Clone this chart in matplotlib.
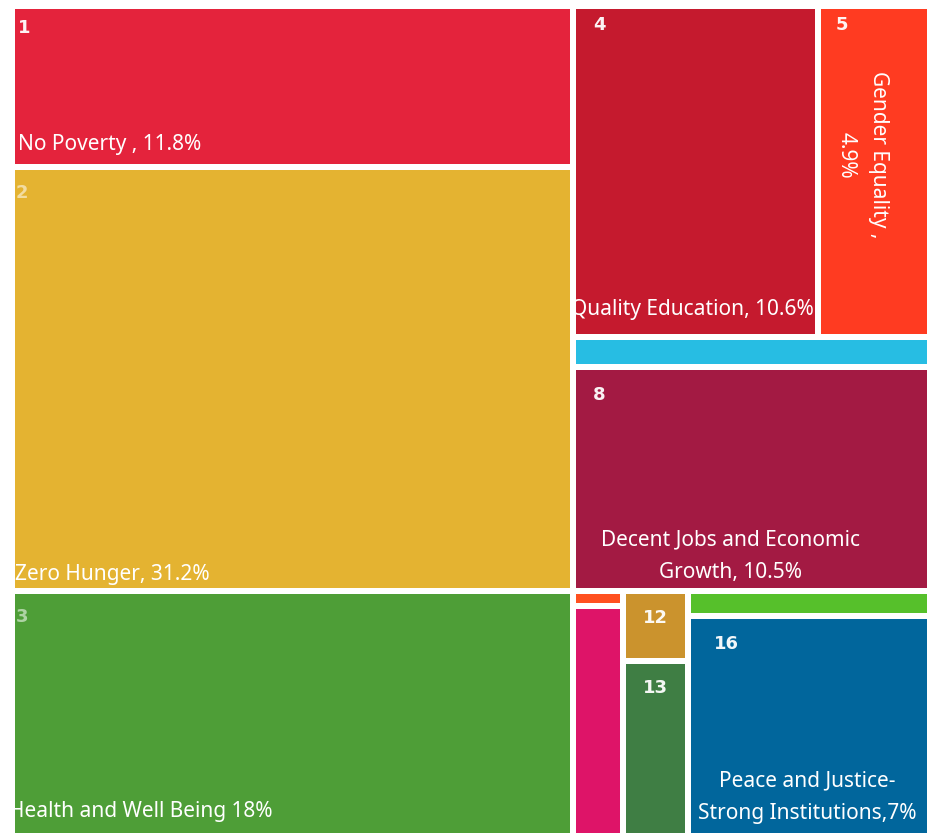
import matplotlib.pyplot as plt
from matplotlib.patches import Rectangle

# SDG goals and their share of the total (%)
GOALS = [1, 2, 3, 4, 5, 6, 7, 8, 10, 12, 13, 15, 16]
SHARES = [11.8, 31.2, 18, 10.6, 4.9, 1.4, 0.1, 10.5, 1.5, 0.6, 1.5, 0.8, 7]
COLORS = ["#E4233C", "#E4B331", "#4E9E37", "#C51A2E", "#FF3B21", "#27BDE3",
          "#FF5020", "#A31A43", "#DE1468", "#CB932D", "#3F7E44", "#56C02B",
          "#01669C"]
LABELS = {
    1: "No Poverty , 11.8%",
    2: "Zero Hunger, 31.2%",
    3: "Health and Well Being 18%",
    4: "Quality Education, 10.6%",
    5: "Gender Equality ,\n4.9%",
    8: "Decent Jobs and Economic\nGrowth, 10.5%",
    16: "Peace and Justice-\nStrong Institutions,7%",
}

# nesting of the treemap (slice and dice, alternating direction)
TREE = [[1, 2, 3],
        [[4, 5], 6, 8, [[7, 10], [12, 13], [15, 16]]]]

value = dict(zip(GOALS, SHARES))
color = dict(zip(GOALS, COLORS))


def node_value(node):
    if isinstance(node, int):
        return value[node]
    return sum(node_value(c) for c in node)


def layout(node, x, y, w, h, depth, out):
    if isinstance(node, int):
        out[node] = (x, y, w, h)
        return
    total = node_value(node)
    for child in node:
        frac = node_value(child) / total
        if depth % 2 == 0:
            layout(child, x, y, w * frac, h, depth + 1, out)
            x += w * frac
        else:
            layout(child, x, y, w, h * frac, depth + 1, out)
            y += h * frac


fig = plt.figure(figsize=(9.28, 8.33), dpi=100)
ax = fig.add_axes([0, 0, 1, 1])
ax.set_xlim(0, 928)
ax.set_ylim(833, 0)
ax.axis("off")

rects = {}
layout(TREE, 12, 6, 919, 830, 0, rects)

gap = 3
for g in GOALS:
    x, y, w, h = rects[g]
    ax.add_patch(Rectangle((x + gap, y + gap), w - 2 * gap, h - 2 * gap,
                           facecolor=color[g], edgecolor="none"))

# goal number badges
num_font = ["Liberation Sans Narrow", "DejaVu Sans"]
badge = {1: (6, 22, "left"), 2: (4, 26, "left"), 3: (4, 26, "left"),
         4: (20, 19, "left"), 5: (18, 19, "left"), 8: (20, 28, "left"),
         12: (0.5, 27, "center"), 13: (0.5, 27, "center"),
         16: (26, 28, "left")}
for g, (dx, dy, ha) in badge.items():
    x, y, w, h = rects[g]
    bx = x + w * dx if ha == "center" else x + dx
    alpha = 0.55 if g in (2, 3) else 0.95
    ax.text(bx, y + dy, str(g), color="white", fontsize=13, fontweight="bold",
            family=num_font, ha=ha, va="center", alpha=alpha)

# labels: (fraction x, fraction y, ha, rotation)
place = {1: (0.01, 0.865, "left", 0),
         2: (0.005, 0.961, "left", 0),
         3: (-0.005, 0.902, "left", 0),
         4: (-0.01, 0.917, "left", 0),
         5: (0.39, 0.45, "center", -90),
         8: (0.44, 0.845, "center", 0),
         16: (0.49, 0.823, "center", 0)}
for g, text in LABELS.items():
    x, y, w, h = rects[g]
    fx, fy, ha, rot = place[g]
    ax.text(x + w * fx, y + h * fy, text, color="white", fontsize=15,
            family=["Noto Sans", "DejaVu Sans"], ha=ha, va="center",
            rotation=rot, multialignment="center", linespacing=1.7)

fig.savefig("out.png", dpi=100)
